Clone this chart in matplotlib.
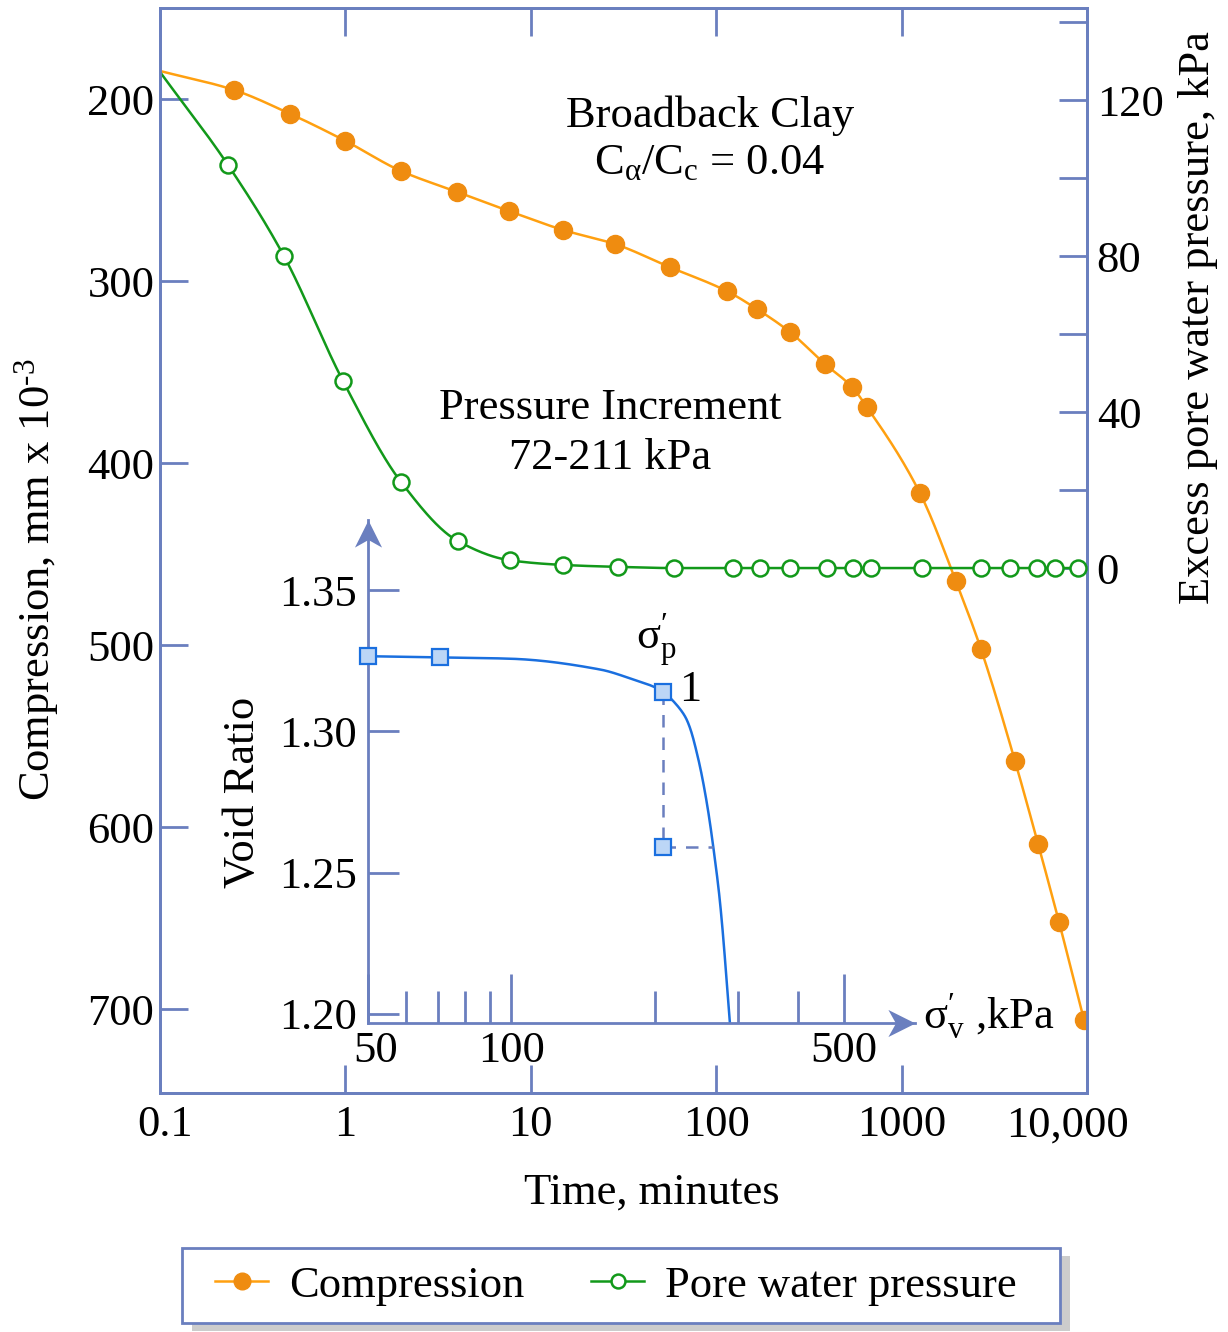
import numpy as np
import matplotlib
matplotlib.use('Agg')
import matplotlib.pyplot as plt
from matplotlib.lines import Line2D
from matplotlib.patches import Rectangle
from matplotlib.path import Path
from matplotlib.transforms import ScaledTranslation

plt.rcParams['font.family'] = ['Liberation Serif', 'DejaVu Serif']
plt.rcParams['mathtext.fontset'] = 'custom'
plt.rcParams['mathtext.rm'] = 'Liberation Serif'
plt.rcParams['mathtext.it'] = 'Liberation Serif:italic'

# compression vs time (main axis, left)
time_comp = [0.1, 0.25, 0.5, 1, 2, 4, 7.6, 15, 28.5, 56, 114, 166, 250, 386,
             540, 650, 1256, 1963, 2680, 4090, 5450, 7070, 9640]
compression = [184.6, 195, 208, 223, 239.6, 251, 261.5, 272, 279.7, 292.3,
               305.5, 315.4, 328, 345.6, 358.2, 369.2, 416.5, 464.8, 502.2,
               563.7, 609.3, 652.2, 706]

# excess pore water pressure vs time (right axis)
time_pwp = [0.1, 0.233, 0.466, 0.97, 2.0, 4.05, 7.7, 14.9, 29.5, 59, 123, 172,
            250, 396, 547, 684, 1288, 2680, 3845, 5375, 6715, 8935]
pwp = [127.2, 103.3, 80, 48, 22, 6.9, 2, 0.8, 0.3, 0, 0, 0, 0, 0, 0, 0, 0, 0,
       0, 0, 0, 0]

# inset: void ratio vs effective stress
sigma_pts = [50, 70.7, 208.6]
e_pts = [1.3266, 1.3262, 1.3139]
sigma_curve = [50, 70.7, 100, 153.6, 180.2, 200.4, 208.6, 217.3, 233.7, 245.3,
               257.4, 265.7, 274.5, 288.1]
e_curve = [1.3266, 1.3262, 1.3257, 1.3219, 1.3184, 1.3156, 1.3139, 1.3113,
           1.3041, 1.2925, 1.2749, 1.2591, 1.2395, 1.1963]
sigma_p = 208.6
e_p = 1.2591
sigma_hit = 265.7

SPINE = '#6a7fbf'
ORANGE = '#ffa010'
ORANGE_M = '#ef8c10'
GREEN = '#12991a'
BLUE = '#1a6fdf'
FS = 32
W, H = 1228, 1332


def pchip(x, y, n=600):
    # monotone cubic through the points, used only to draw smooth lines
    x = np.asarray(x, float)
    y = np.asarray(y, float)
    h = np.diff(x)
    d = np.diff(y) / h
    m = np.zeros_like(y)
    m[0], m[-1] = d[0], d[-1]
    for k in range(1, len(x) - 1):
        if d[k - 1] * d[k] <= 0:
            m[k] = 0
        else:
            w1 = 2 * h[k] + h[k - 1]
            w2 = h[k] + 2 * h[k - 1]
            m[k] = (w1 + w2) / (w1 / d[k - 1] + w2 / d[k])
    xs = np.linspace(x[0], x[-1], n)
    idx = np.clip(np.searchsorted(x, xs) - 1, 0, len(x) - 2)
    t = (xs - x[idx]) / h[idx]
    h00 = 2 * t**3 - 3 * t**2 + 1
    h10 = t**3 - 2 * t**2 + t
    h01 = -2 * t**3 + 3 * t**2
    h11 = t**3 - t**2
    ys = h00 * y[idx] + h10 * h[idx] * m[idx] + h01 * y[idx + 1] + h11 * h[idx] * m[idx + 1]
    return xs, ys


def smooth_param(x, y, sx, sy, n=800):
    # parametric version (chord length) for curves that turn vertical
    x = np.asarray(x, float)
    y = np.asarray(y, float)
    s = np.concatenate([[0], np.cumsum(np.hypot(np.diff(x) * sx, np.diff(y) * sy))])
    _, xs = pchip(s, x, n)
    _, ys = pchip(s, y, n)
    return xs, ys


fig = plt.figure(figsize=(W / 100, H / 100), dpi=100)
ax = fig.add_axes([160 / W, 1 - 1093 / H, 927 / W, 1085 / H])
ax2 = ax.twinx()

# compression
lx, ly = pchip(np.log10(time_comp), compression)
ax.plot(10**lx, ly, color=ORANGE, lw=1.8, zorder=2)
ax.plot(time_comp[1:], compression[1:], 'o', color=ORANGE_M, ms=13, zorder=3)

# pore water pressure
lx, ly = pchip(np.log10(time_pwp), pwp)
ax2.plot(10**lx, ly, color=GREEN, lw=1.8, zorder=2)
ax2.plot(time_pwp[1:], pwp[1:], 'o', mfc='white', mec=GREEN, mew=1.8, ms=11.5, zorder=3)

ax.set_xscale('log')
ax.set_xlim(0.1, 10000)
ax.set_ylim(746, 150)
ax2.set_ylim(-134.6, 143.6)

ax.set_xticks([0.1, 1, 10, 100, 1000, 10000],
              labels=['0.1', '1', '10', '100', '1000', '10,000'])
ax.xaxis.set_minor_locator(matplotlib.ticker.NullLocator())
ax.set_yticks([200, 300, 400, 500, 600, 700])
ax2.set_yticks([0, 40, 80, 120])
ax2.set_yticks([20, 60, 100, 140], minor=True)

ax.tick_params(axis='x', which='major', direction='in', length=20, width=2,
               color=SPINE, top=True, labelsize=FS, pad=9)
ax.tick_params(axis='y', direction='in', length=20, width=2, color=SPINE,
               labelsize=FS, pad=4)
ax2.tick_params(axis='y', which='both', direction='in', length=20, width=2,
                color=SPINE, labelsize=FS, pad=7)
for a in (ax, ax2):
    for s in a.spines.values():
        s.set_color(SPINE)
        s.set_linewidth(2)
xl = ax.get_xticklabels()
xl[0].set_transform(xl[0].get_transform() + ScaledTranslation(0.05, 0, fig.dpi_scale_trans))
xl[-1].set_transform(xl[-1].get_transform() + ScaledTranslation(-0.19, 0, fig.dpi_scale_trans))

fig.text(37 / W, 1 - 580 / H, r'Compression, mm x 10$^{\text{-3}}$', fontsize=FS,
         rotation=90, ha='center', va='center')
fig.text(1198 / W, 1 - 318 / H, 'Excess pore water pressure, kPa', fontsize=FS,
         rotation=90, ha='center', va='center')
fig.text(652 / W, 1 - 1193 / H, 'Time, minutes', fontsize=FS,
         ha='center', va='center')

ax.text(0.593, 0.901, 'Broadback Clay', transform=ax.transAxes, fontsize=FS,
        ha='center', va='center')
ax.text(0.593, 0.857, r'C$_{\mathrm{\alpha}}$/C$_{\mathrm{c}}$ = 0.04',
        transform=ax.transAxes, fontsize=FS, ha='center', va='center')
ax.text(0.4854, 0.6313, 'Pressure Increment', transform=ax.transAxes,
        fontsize=FS, ha='center', va='center')
ax.text(0.4854, 0.5853, '72-211 kPa', transform=ax.transAxes,
        fontsize=FS, ha='center', va='center')

# inset
ax_in = fig.add_axes([368 / W, 1 - 1023 / H, 547 / W, 503 / H])
ax_in.set_facecolor('none')
ax_in.set_xscale('log')
ax_in.set_xlim(50, 705)
ax_in.set_ylim(1.1968, 1.3748)
lx, ly = smooth_param(np.log10(sigma_curve), e_curve, 476, 2826)
ax_in.plot(10**lx, ly, color=BLUE, lw=1.8, zorder=2)
ax_in.plot([sigma_p, sigma_p], [e_pts[2], e_p], '--', color=SPINE, lw=1.8,
           dashes=(5, 4), zorder=2)
ax_in.plot([sigma_p, sigma_hit], [e_p, e_p], '--', color=SPINE, lw=1.8,
           dashes=(5, 4), zorder=2)
ax_in.plot(sigma_pts + [sigma_p], e_pts + [e_p], 's', mfc='#bcd6f6', mec=BLUE,
           mew=1.6, ms=11, zorder=4, clip_on=False)

ax_in.set_xticks([50, 100, 500], labels=['50', '100', '500'])
ax_in.set_xticks([60, 70, 80, 90, 200, 300, 400], minor=True)
ax_in.xaxis.set_minor_formatter(matplotlib.ticker.NullFormatter())
ax_in.set_yticks([1.20, 1.25, 1.30, 1.35], labels=['1.20', '1.25', '1.30', '1.35'])
ax_in.tick_params(axis='x', which='major', direction='in', length=35, width=2,
                  color=SPINE, labelsize=FS, pad=6)
ax_in.tick_params(axis='x', which='minor', direction='in', length=23, width=2,
                  color=SPINE)
ax_in.tick_params(axis='y', direction='in', length=22, width=2, color=SPINE,
                  labelsize=FS, pad=8)
il = ax_in.get_xticklabels()
il[0].set_transform(il[0].get_transform() + ScaledTranslation(0.08, 0, fig.dpi_scale_trans))
for side in ('top', 'right'):
    ax_in.spines[side].set_visible(False)
for side in ('left', 'bottom'):
    ax_in.spines[side].set_color(SPINE)
    ax_in.spines[side].set_linewidth(2)

# stealth arrow heads at the ends of the inset axes
up = Path([(0, 0), (-0.5, -1), (0, -0.72), (0.5, -1), (0, 0)],
          [Path.MOVETO, Path.LINETO, Path.LINETO, Path.LINETO, Path.CLOSEPOLY])
right = Path([(0, 0), (-1, 0.5), (-0.72, 0), (-1, -0.5), (0, 0)],
             [Path.MOVETO, Path.LINETO, Path.LINETO, Path.LINETO, Path.CLOSEPOLY])
ax_in.plot([0], [1], marker=up, ms=39, color=SPINE, mew=0, transform=ax_in.transAxes,
           clip_on=False, zorder=5)
ax_in.plot([1], [0], marker=right, ms=39, color=SPINE, mew=0, transform=ax_in.transAxes,
           clip_on=False, zorder=5)

ax_in.text(-0.2285, 0.458, 'Void Ratio', transform=ax_in.transAxes, fontsize=FS,
           rotation=90, ha='center', va='center')
fig.text(636 / W, 1 - 640 / H, r"σ$_{\mathrm{p}}^{\prime}$", fontsize=FS, ha='left', va='center')
fig.text(690 / W, 1 - 690 / H, '1', fontsize=FS, ha='center', va='center')
fig.text(923 / W, 1 - 1016 / H, r"σ$_{\mathrm{v}}^{\prime}$ ,kPa", fontsize=FS,
         ha='left', va='center')

# legend with frame and flat shadow
box = (182 / W, 1 - 1323 / H, 878 / W, 75 / H)
fig.patches.append(Rectangle((box[0] + 10 / W, box[1] - 8 / H), box[2], box[3],
                             transform=fig.transFigure, facecolor='#cccccc',
                             edgecolor='none', zorder=0))
fig.patches.append(Rectangle(box[:2], box[2], box[3], transform=fig.transFigure,
                             facecolor='white', edgecolor=SPINE, lw=2, zorder=1))
handles = [Line2D([], [], color=ORANGE, lw=1.8, marker='o', mfc=ORANGE_M,
                  mec=ORANGE_M, ms=12),
           Line2D([], [], color=GREEN, lw=1.8, marker='o', mfc='white',
                  mec=GREEN, mew=1.8, ms=10)]
leg = fig.legend(handles, ['Compression', 'Pore water pressure'], loc='center',
                 bbox_to_anchor=(box[0] + box[2] / 2 - 5 / W, box[1] + box[3] / 2),
                 ncol=2, frameon=False, fontsize=FS, handlelength=1.19,
                 handletextpad=0.47, columnspacing=1.5)

fig.savefig('out.png', dpi=100)
